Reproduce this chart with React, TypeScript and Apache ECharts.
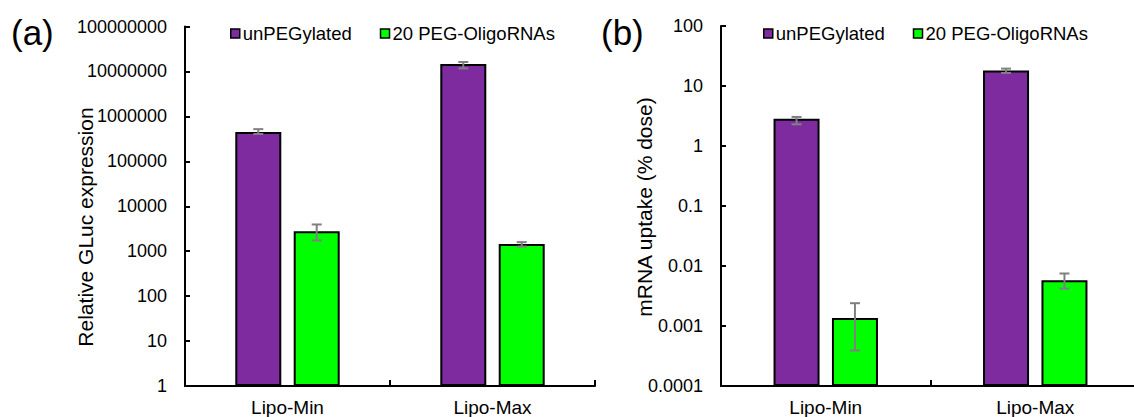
import React, { useEffect, useRef } from "react";
import * as echarts from "echarts";

const categories = ["Lipo-Min", "Lipo-Max"];
const seriesNames = ["unPEGylated", "20 PEG-OligoRNAs"];

// (a) Relative GLuc expression
const glucUnPEG = [450000, 14600000];
const glucUnPEGErr = [[405000, 520000], [11700000, 16200000]];
const glucPEG = [2780, 1450];
const glucPEGErr = [[1730, 3930], [1270, 1590]];

// (b) mRNA uptake (% dose)
const uptakeUnPEG = [2.85, 18.1];
const uptakeUnPEGErr = [[2.3, 3.05], [16.5, 19.5]];
const uptakePEG = [0.00136, 0.0058];
const uptakePEGErr = [[0.00039, 0.0024], [0.0042, 0.0075]];

const leftTickLabels = ["1", "10", "100", "1000", "10000", "100000", "1000000", "10000000", "100000000"];
const rightTickLabels = ["0.0001", "0.001", "0.01", "0.1", "1", "10", "100"];

const PURPLE = "#7F2BA0";
const GREEN = "#00FF00";
const FONT = "'Liberation Sans', Arial, sans-serif";
const BAR_W = 46;
const BAR_GAP = 0.27;
const OFFSET = (BAR_W + BAR_W * BAR_GAP) / 2;

function errData(a: number[][], b: number[][]) {
  const out: number[][] = [];
  a.forEach((r, i) => out.push([i, r[0], r[1], 0]));
  b.forEach((r, i) => out.push([i, r[0], r[1], 1]));
  return out;
}

function renderErr(params: any, api: any) {
  const cat = api.value(0);
  const lo = api.value(1);
  const hi = api.value(2);
  const s = api.value(3);
  const pLo = api.coord([cat, lo]);
  const pHi = api.coord([cat, hi]);
  const x = pLo[0] + (s === 0 ? -OFFSET : OFFSET);
  const style = { stroke: "#808080", lineWidth: 2 };
  const cap = 5;
  return {
    type: "group",
    children: [
      { type: "line", shape: { x1: x, y1: pHi[1], x2: x, y2: pLo[1] }, style },
      { type: "line", shape: { x1: x - cap, y1: pHi[1], x2: x + cap, y2: pHi[1] }, style },
      { type: "line", shape: { x1: x - cap, y1: pLo[1], x2: x + cap, y2: pLo[1] }, style },
    ],
  };
}

export default function App() {
  const ref = useRef<HTMLDivElement>(null);
  useEffect(() => {
    if (!ref.current) return;
    const chart = echarts.init(ref.current, null, { renderer: "svg" });
    const axisLineStyle = { color: "#000", width: 2 };
    const mkX = (gi: number) => ({
      type: "category",
      gridIndex: gi,
      data: categories,
      axisLine: { show: true, lineStyle: axisLineStyle },
      axisTick: { show: true, inside: true, length: 6, alignWithLabel: false, lineStyle: { color: "#000", width: 2 } },
      axisLabel: { interval: 0, margin: 12, fontSize: 19, color: "#000", fontFamily: FONT },
      splitLine: { show: false },
    });
    const mkY = (gi: number, min: number, max: number, labels: string[], expOffset: number) => ({
      type: "log",
      logBase: 10,
      gridIndex: gi,
      min,
      max,
      interval: 1,
      startValue: min,
      axisLine: { show: true, lineStyle: axisLineStyle },
      axisTick: { show: true, inside: true, length: 5, lineStyle: { color: "#000", width: 2 } },
      axisLabel: {
        margin: 18,
        fontSize: 18,
        color: "#000",
        fontFamily: FONT,
        formatter: (v: number) => labels[Math.round(Math.log10(v)) + expOffset] ?? "",
      },
      splitLine: { show: false },
    });
    const barItem = (color: string) => ({ color, borderColor: "#000", borderWidth: 2 });
    const mkLegend = (left: number) => ({
      left,
      top: 24,
      padding: 0,
      orient: "horizontal",
      icon: "rect",
      itemWidth: 9,
      itemHeight: 9,
      itemGap: 28,
      selectedMode: false,
      data: seriesNames,
      itemStyle: { borderColor: "#000", borderWidth: 1.5 },
      textStyle: { fontSize: 18.5, color: "#000", fontFamily: FONT, padding: [0, 0, 0, -2] },
    });
    chart.setOption({
      animation: false,
      backgroundColor: "#fff",
      textStyle: { fontFamily: FONT },
      grid: [
        { left: 185, top: 26.5, width: 410, height: 359.5, containLabel: false, outerBoundsMode: "none" },
        { left: 721, top: 26, width: 419, height: 360, containLabel: false, outerBoundsMode: "none" },
      ],
      legend: [mkLegend(230), mkLegend(763)],
      xAxis: [mkX(0), mkX(1)],
      yAxis: [mkY(0, 1, 1e8, leftTickLabels, 0), mkY(1, 0.0001, 100, rightTickLabels, 4)],
      graphic: [
        { type: "text", left: 11, top: 15, style: { text: "(a)", fontSize: 35, fill: "#000", fontFamily: FONT } },
        { type: "text", left: 601, top: 15, style: { text: "(b)", fontSize: 35, fill: "#000", fontFamily: FONT } },
        {
          type: "text", x: 85, y: 227, rotation: Math.PI / 2,
          style: { text: "Relative GLuc expression", fontSize: 21, fill: "#000", fontFamily: FONT, align: "center", verticalAlign: "middle" },
        },
        {
          type: "text", x: 644, y: 207, rotation: Math.PI / 2,
          style: { text: "mRNA uptake (% dose)", fontSize: 21, fill: "#000", fontFamily: FONT, align: "center", verticalAlign: "middle" },
        },
      ],
      series: [
        { name: seriesNames[0], type: "bar", xAxisIndex: 0, yAxisIndex: 0, data: glucUnPEG, barWidth: BAR_W, barGap: BAR_GAP * 100 + "%", itemStyle: barItem(PURPLE) },
        { name: seriesNames[1], type: "bar", xAxisIndex: 0, yAxisIndex: 0, data: glucPEG, barWidth: BAR_W, barGap: BAR_GAP * 100 + "%", itemStyle: barItem(GREEN) },
        { name: seriesNames[0], type: "bar", xAxisIndex: 1, yAxisIndex: 1, data: uptakeUnPEG, barWidth: BAR_W, barGap: BAR_GAP * 100 + "%", itemStyle: barItem(PURPLE) },
        { name: seriesNames[1], type: "bar", xAxisIndex: 1, yAxisIndex: 1, data: uptakePEG, barWidth: BAR_W, barGap: BAR_GAP * 100 + "%", itemStyle: barItem(GREEN) },
        { type: "custom", xAxisIndex: 0, yAxisIndex: 0, z: 5, renderItem: renderErr, data: errData(glucUnPEGErr, glucPEGErr), encode: { x: 0, y: [1, 2] }, clip: false },
        { type: "custom", xAxisIndex: 1, yAxisIndex: 1, z: 5, renderItem: renderErr, data: errData(uptakeUnPEGErr, uptakePEGErr), encode: { x: 0, y: [1, 2] }, clip: false },
      ],
    });
    return () => chart.dispose();
  }, []);
  return <div ref={ref} style={{ position: "absolute", left: 0, top: 0, width: 1134, height: 417 }} />;
}
